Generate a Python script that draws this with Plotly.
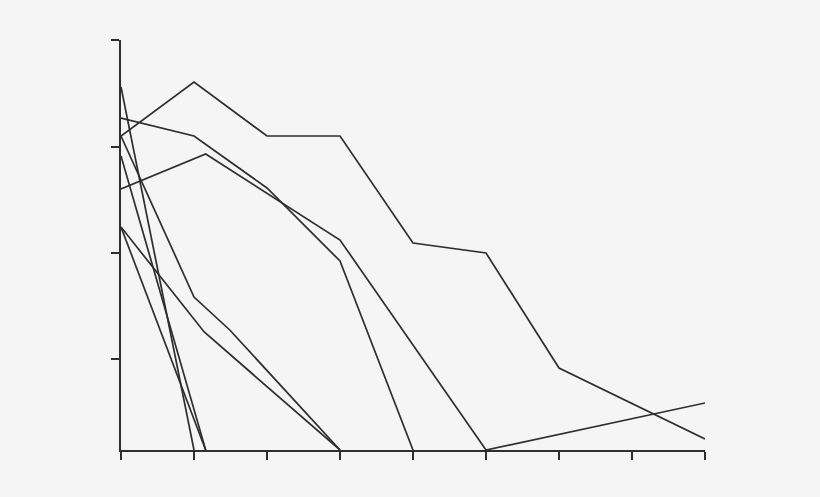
import plotly.graph_objects as go

# x positions in tick units (0..8), y values measured upward from the baseline
s1_x = [0, 1, 2, 3, 4, 5, 6, 8]
s1_y = [314, 368, 314, 314, 207, 197, 82, 11]
s2_x = [0, 1, 2, 3, 4]
s2_y = [332, 314, 262, 189, 0]
s3_x = [0, 1.16, 3, 5, 8]
s3_y = [261, 296, 210, 0, 47]
s4_x = [0, 1, 1.49, 3]
s4_y = [314, 153, 120, 0]
s5_x = [0, 1.14, 3]
s5_y = [223, 118, 0]
s6_x = [0, 1]
s6_y = [363, 0]
s7_x = [0, 1.16]
s7_y = [294, 0]
s8_x = [0, 1.16]
s8_y = [223, 0]

x_ticks = [0, 1, 2, 3, 4, 5, 6, 7, 8]
y_ticks = [91, 197, 303, 410]

series = [(s1_x, s1_y), (s2_x, s2_y), (s3_x, s3_y), (s4_x, s4_y),
          (s5_x, s5_y), (s6_x, s6_y), (s7_x, s7_y), (s8_x, s8_y)]

fig = go.Figure()
for xs, ys in series:
    fig.add_trace(go.Scatter(x=xs, y=ys, mode="lines",
                             line=dict(color="#2e2e2e", width=1.7),
                             hoverinfo="skip", showlegend=False))

bg = "#f5f5f5"
fig.update_layout(
    width=820, height=497,
    margin=dict(l=121, r=115, t=40, b=47),
    paper_bgcolor=bg, plot_bgcolor=bg,
    showlegend=False,
)
fig.update_xaxes(range=[0, 8], tickvals=x_ticks, showticklabels=False,
                 ticks="outside", ticklen=8, tickwidth=1.5, tickcolor="#2e2e2e",
                 showline=True, linecolor="#2e2e2e", linewidth=2,
                 showgrid=False, zeroline=False)
fig.update_yaxes(range=[0, 410], tickvals=y_ticks, showticklabels=False,
                 ticks="outside", ticklen=8, tickwidth=1.5, tickcolor="#2e2e2e",
                 showline=True, linecolor="#2e2e2e", linewidth=2,
                 showgrid=False, zeroline=False)

fig.write_html(
    "out.html",
    config={"displayModeBar": False},
    post_script="document.body.style.margin='0';document.body.style.background='#f5f5f5';",
)
